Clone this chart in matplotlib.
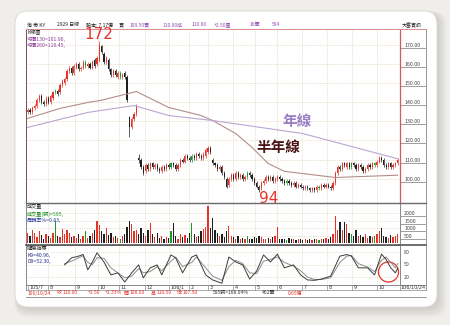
import matplotlib
matplotlib.use('Agg')
import matplotlib.pyplot as plt
from matplotlib.patches import FancyBboxPatch, Circle
from matplotlib import transforms
import numpy as np

plt.rcParams['font.family'] = ['Noto Sans CJK TC', 'DejaVu Sans']

W, H = 450, 325

# ---- data (one candle = 2 trading days) ----
closes = [136, 135, 137, 138, 141, 143, 140, 139, 142, 140,
          143, 145, 146, 144, 149, 151, 152, 156, 158, 155,
          159, 160, 157, 158, 161, 159, 160, 158, 161, 159,
          163, 170, 166, 161, 163, 157, 154, 156, 154, 155,
          153, 154, 153, 141, 127, 131, 134, 138, 110, 106,
          103, 107, 105, 108, 106, 107, 105, 104, 106, 105,
          107, 106, 108, 107, 105, 107, 110, 109, 112, 111,
          110, 112, 111, 113, 112, 111, 113, 115, 116, 114,
          108, 107, 105, 106, 103, 101, 96, 100, 102, 100,
          103, 101, 102, 100, 101, 103, 102, 100, 98, 96,
          94, 98, 99, 101, 100, 101, 99, 100, 101, 100,
          99, 98, 99, 98, 97, 98, 96, 97, 96, 95,
          96, 95, 94, 95, 94, 96, 95, 97, 96, 97,
          96, 95, 98, 103, 106, 105, 108, 107, 108, 106,
          108, 107, 105, 107, 106, 104, 105, 107, 106, 108,
          107, 109, 111, 110, 107, 106, 108, 106, 107, 108,
          110]
opens = [135, 136, 135, 137, 138, 141, 143, 140, 139, 142,
         140, 142, 145, 146, 145, 149, 150, 152, 156, 158,
         155, 158, 160, 157, 158, 161, 159, 160, 158, 162,
         160, 162, 169, 165, 161, 162, 157, 154, 156, 153,
         155, 153, 155, 153, 132, 127, 131, 134, 111, 110,
         106, 104, 107, 105, 108, 106, 107, 105, 104, 106,
         105, 107, 106, 108, 107, 105, 107, 110, 109, 112,
         111, 110, 112, 111, 113, 112, 111, 112, 114, 116,
         110, 108, 107, 105, 106, 103, 100, 97, 100, 102,
         100, 103, 101, 102, 100, 101, 103, 102, 100, 98,
         96, 95, 98, 99, 101, 100, 101, 99, 100, 101,
         100, 99, 98, 99, 98, 97, 98, 96, 97, 96,
         95, 96, 95, 94, 95, 94, 96, 95, 97, 96,
         97, 96, 95, 98, 103, 106, 105, 108, 106, 108,
         106, 108, 107, 105, 107, 106, 104, 105, 107, 106,
         108, 107, 109, 111, 110, 107, 106, 108, 106, 107,
         108]
highs = [137, 137, 138, 139, 142, 144, 144, 141, 143, 143,
         144, 146, 147, 147, 150, 152, 153, 157, 159, 159,
         160, 161, 161, 159, 162, 162, 161, 161, 162, 163,
         164, 172, 170, 166, 164, 163, 158, 157, 157, 156,
         156, 155, 156, 154, 133, 132, 135, 139, 113, 111,
         107, 108, 108, 109, 109, 108, 108, 106, 107, 107,
         108, 108, 109, 109, 108, 108, 111, 111, 113, 113,
         112, 113, 113, 114, 114, 113, 114, 116, 117, 117,
         111, 109, 108, 107, 107, 104, 101, 101, 103, 103,
         104, 104, 103, 103, 102, 104, 104, 103, 101, 99,
         97, 99, 100, 102, 102, 102, 102, 101, 102, 102,
         101, 100, 100, 100, 99, 99, 99, 98, 98, 97,
         97, 97, 96, 96, 96, 97, 97, 98, 98, 98,
         98, 97, 99, 104, 107, 107, 109, 109, 109, 109,
         109, 109, 108, 108, 108, 107, 106, 108, 108, 109,
         109, 110, 112, 112, 111, 108, 109, 109, 108, 109,
         111]
lows = [134, 134, 134, 136, 137, 140, 139, 138, 138, 139,
        139, 141, 144, 143, 144, 148, 149, 151, 155, 154,
        154, 157, 156, 156, 157, 158, 158, 157, 157, 158,
        159, 161, 165, 160, 160, 156, 153, 153, 153, 152,
        152, 152, 152, 140, 122, 126, 130, 133, 108, 105,
        102, 103, 104, 104, 105, 105, 104, 103, 103, 104,
        104, 105, 105, 106, 104, 104, 106, 108, 108, 110,
        109, 109, 110, 110, 111, 110, 110, 111, 113, 113,
        107, 106, 104, 104, 102, 100, 95, 96, 99, 99,
        99, 100, 100, 99, 99, 100, 101, 99, 97, 95,
        93, 94, 97, 98, 99, 99, 98, 98, 99, 99,
        98, 97, 97, 97, 96, 96, 95, 95, 95, 94,
        94, 94, 93, 93, 93, 93, 94, 94, 95, 95,
        95, 94, 94, 97, 102, 104, 104, 106, 105, 105,
        105, 106, 104, 104, 105, 103, 103, 104, 105, 105,
        106, 106, 108, 109, 106, 105, 105, 105, 105, 106,
        107]
volumes = [700, 500, 900, 650, 400, 800, 550, 300, 600, 450,
           350, 700, 1500, 500, 400, 950, 600, 850, 700, 400,
           500, 350, 600, 300, 450, 800, 350, 500, 700, 900,
           1500, 1200, 800, 600, 1000, 550, 700, 400, 500, 350,
           300, 450, 600, 1100, 1500, 1300, 800, 900, 600, 1000,
           700, 500, 900, 1350, 600, 400, 700, 350, 500, 300,
           400, 350, 800, 1350, 500, 300, 600, 400, 550, 350,
           700, 1350, 600, 400, 500, 800, 950, 1100, 2500, 1000,
           1700, 900, 700, 500, 600, 400, 800, 1150, 500, 400,
           300, 450, 250, 350, 300, 500, 250, 300, 400, 350,
           500, 400, 300, 250, 350, 300, 400, 500, 1100, 300,
           250, 300, 200, 350, 250, 300, 200, 250, 300, 200,
           250, 200, 300, 200, 250, 300, 200, 250, 300, 350,
           300, 400, 600, 1800, 850, 1400, 900, 1400, 1250, 700,
           600, 500, 850, 450, 550, 400, 600, 350, 500, 400,
           450, 600, 800, 1000, 500, 400, 350, 550, 400, 500,
           600]
green_days = [12, 25, 40, 62, 71, 95, 112, 126, 140, 150]

ma130_idx = [0, 14, 26, 32, 47, 61, 75, 80, 90, 97, 104, 111, 133, 160]
ma130_val = [131.5, 136.7, 139.8, 141, 145.5, 137.2, 133, 130.4, 123.6, 116.4, 108, 103.9, 100.7, 101.9]
ma260_idx = [0, 26, 46, 61, 80, 119, 160]
ma260_val = [126.8, 134.6, 138.2, 133, 130.4, 123.6, 110.45]

kd_idx = [16, 19, 22, 24, 26, 28, 30, 33, 36, 39, 42, 45, 48, 50, 53, 56, 58, 62, 64, 67,
          71, 73, 77, 80, 84, 87, 90, 93, 96, 99, 102, 105, 108, 111, 115, 118, 121, 124, 127, 131,
          135, 138, 140, 143, 147, 150, 153, 155, 157, 159, 160]
k_vals = [49, 66, 70, 74, 37, 56, 78, 56, 25, 30, 8, 30, 49, 18, 42, 49, 25, 73, 66, 30,
          68, 73, 25, 13, 5, 68, 56, 49, 15, 34, 73, 56, 75, 42, 49, 25, 13, 12, 15, 22,
          70, 74, 70, 42, 42, 25, 75, 62, 42, 30, 41]
d_vals = [52, 58, 66, 71, 55, 50, 66, 65, 42, 30, 18, 22, 40, 30, 33, 45, 35, 58, 68, 45,
          55, 68, 42, 22, 12, 45, 60, 52, 30, 28, 58, 62, 68, 55, 46, 35, 20, 14, 14, 18,
          55, 70, 72, 52, 44, 33, 60, 68, 55, 42, 52]

month_idx = [0, 8.6, 20.3, 30.3, 39.4, 50.6, 61, 69.8, 77.9, 88.7, 98.2, 107.8, 118.6, 129.4, 140.2, 151]
month_lbl = ['105/7', '8', '9', '10', '11', '12', '106/1', '2', '3', '4', '5', '6', '7', '8', '9', '10']
price_ticks = [170, 160, 150, 140, 130, 120, 110, 100]
vol_ticks = [2000, 1500, 1000, 500]
kd_ticks = [80, 50, 20]

RED = '#e5332a'
BLK = '#1e1e1e'
GRN = '#1a9a2a'
GRID = '#d8c6a4'

fig = plt.figure(figsize=(4.5, 3.25), dpi=100, facecolor='#efeeea')

bg = fig.add_axes([0, 0, 1, 1])
bg.set_xlim(0, W)
bg.set_ylim(H, 0)
bg.axis('off')
# soft shadow + white card
for i in range(7):
    bg.add_patch(FancyBboxPatch((17 + i * 0.4, 13 + i * 0.5), 422, 296,
                                boxstyle='round,pad=%.1f,rounding_size=14' % (i * 0.8),
                                fc='#9a948a', ec='none', alpha=0.05))
bg.add_patch(FancyBboxPatch((15, 11), 422, 296, boxstyle='round,pad=0,rounding_size=13',
                            fc='white', ec='#dcd8d0', lw=0.6))


def fa(x0, y0, x1, y1):
    return fig.add_axes([x0 / W, 1 - y1 / H, (x1 - x0) / W, (y1 - y0) / H])


XL = (-0.7, 161)
idx = np.arange(len(closes))
cols = []
for i, (o, c) in enumerate(zip(opens, closes)):
    if i in green_days:
        cols.append(GRN)
    elif c >= o:
        cols.append(RED)
    else:
        cols.append(BLK)


def style(ax, color='#8a8a8a'):
    ax.set_xlim(*XL)
    ax.set_facecolor('none')
    for s in ax.spines.values():
        s.set_color(color)
        s.set_linewidth(0.7)
    ax.set_xticks(month_idx[1:])
    ax.tick_params(axis='x', length=0, labelbottom=False)
    ax.grid(True, color=GRID, lw=0.5, ls=(0, (1, 1.5)))
    ax.set_axisbelow(True)
    ax.yaxis.tick_right()
    ax.tick_params(axis='y', length=0, pad=3, labelsize=3.8, labelcolor='#444')


def underline(ax, ticks):
    tr = transforms.offset_copy(ax.get_yaxis_transform(), fig=fig, y=-3, units='dots')
    for v in ticks:
        ax.plot([1.0, 1.068], [v, v], transform=tr, color='#777', lw=0.5, clip_on=False)


# ---- price panel ----
ax = fa(26, 29, 400, 203)
style(ax)
ax.spines['top'].set_color('#d98c8c')
ax.spines['right'].set_color('#d45a5a')
ax.spines['right'].set_linewidth(0.9)
ax.spines['left'].set_color('#7a5050')
ax.set_ylim(87.4, 178.1)
ax.set_yticks(price_ticks)
ax.set_yticklabels(['%.2f' % v for v in price_ticks])
underline(ax, price_ticks)
ax.vlines(idx, lows, highs, colors=cols, lw=0.5)
body = np.array(closes) - np.array(opens)
body = np.where(np.abs(body) < 0.4, 0.4, body)
ax.bar(idx, body, bottom=opens, width=0.5, color=cols, lw=0)
ax.plot(ma130_idx, ma130_val, color='#b48c8c', lw=0.8)
ax.plot(ma260_idx, ma260_val, color='#bba5d2', lw=0.8)
ax.text(30.7, 175, '172', color=RED, fontsize=11, ha='center', va='center',
        family='DejaVu Sans')
ax.text(104.3, 90, '94', color=RED, fontsize=11, ha='center', va='center',
        family='DejaVu Sans', clip_on=False)
ax.text(116.5, 130.3, '年線', color='#9b7fc6', fontsize=10.5, fontweight='bold',
        ha='center', va='center')
ax.text(108.2, 116.6, '半年線', color='#4a1414', fontsize=10.5, fontweight='bold',
        ha='center', va='center')
ax.text(0.003, 0.995, 'K線圖', transform=ax.transAxes, fontsize=3.7, va='top', color='#222')
ax.text(0.003, 0.957, '均價130=101.90,', transform=ax.transAxes, fontsize=3.7, va='top', color='#8a3c9a')
ax.text(0.003, 0.919, '均價260=110.45,', transform=ax.transAxes, fontsize=3.7, va='top', color='#8a3c9a')

# ---- volume panel ----
av = fa(26, 203, 400, 245)
style(av)
av.spines['top'].set_color('#6a6a6a')
av.spines['top'].set_linewidth(1.0)
av.set_ylim(-133, 2667)
av.set_yticks(vol_ticks)
av.set_yticklabels([str(v) for v in vol_ticks])
underline(av, vol_ticks)
av.bar(idx, volumes, width=0.55, color=cols, lw=0)
av.text(0.003, 0.97, '成交量', transform=av.transAxes, fontsize=3.7, va='top', color='#222')
av.text(0.003, 0.81, '成交量(張)=595,', transform=av.transAxes, fontsize=3.7, va='top', color='#1a8a1a')
av.text(0.003, 0.65, '周轉率%=0.83,', transform=av.transAxes, fontsize=3.7, va='top', color='#2a3a9a')

# ---- KD panel ----
ak = fa(26, 245, 400, 284.5)
style(ak)
ak.spines['top'].set_color('#555')
ak.spines['top'].set_linewidth(1.2)
ak.set_ylim(2, 96.8)
ak.set_yticks(kd_ticks)
ak.set_yticklabels([str(v) for v in kd_ticks])
ak.plot(kd_idx, d_vals, color='#8c8c8c', lw=0.7)
ak.plot(kd_idx, k_vals, color='#3c3c3c', lw=0.7)
for y, t, c in [(0.97, '隨機指標', '#222'), (0.81, 'K9=40.96,', '#2a2a8a'), (0.65, 'D9=52.30,', '#2a2a8a')]:
    ak.text(0.003, y, t, transform=ak.transAxes, fontsize=3.7, va='top', color=c,
            bbox=dict(fc='white', ec='none', pad=0.3))
# date row under the KD panel
dtr = transforms.blended_transform_factory(ak.transData, ak.transAxes)
for m, lbl in zip(month_idx, month_lbl):
    ak.plot([m, m], [0, -0.127], transform=dtr, color='#888', lw=0.5, clip_on=False)
    ak.text(m + 0.8, -0.065, lbl, transform=dtr, fontsize=3.5, va='center', ha='left',
            color='#333', family='DejaVu Sans')

# ---- frame pieces drawn in pixel space ----
bg.plot([26, 426], [289.5, 289.5], color='#888', lw=0.5)
bg.plot([26, 426], [296.5, 296.5], color='#888', lw=0.6)
bg.plot([26, 26], [29, 289.5], color='#888', lw=0.6)
bg.plot([426, 426], [29, 289.5], color='#888', lw=0.6)
bg.plot([400, 426], [29, 29], color='#d98c8c', lw=0.7)
bg.plot([400, 400], [284.5, 289.5], color='#888', lw=0.5)
bg.plot([400, 426], [203, 203], color='#6a6a6a', lw=1.0)
bg.plot([400, 426], [245, 245], color='#555', lw=1.2)
bg.plot([400, 426], [284.5, 284.5], color='#888', lw=0.6)
bg.text(413, 287, '106/10/24', fontsize=3.5, ha='center', va='center', color='#333',
        family='DejaVu Sans')
bg.add_patch(Circle((388.5, 272), 10, fc='none', ec=RED, lw=0.9))

# header row
hdr = [(27, '淘 帝 KY', '#222'), (57, '2929 日線', '#222'), (86, '股本: 7.17億', '#222'),
       (119, '買', '#222'), (130, '109.50賣', '#9050b0'), (163, '110.00成', '#9050b0'),
       (192, '110.00', '#9050b0'), (214, '+2.50量', '#9050b0'), (250, '16筆', '#9050b0'),
       (272, '594', '#9050b0'), (402, '大富資訊', '#222')]
for x, t, c in hdr:
    bg.text(x, 25, t, fontsize=3.6, va='center', ha='left', color=c)

# bottom info row
info = [(28, '106/10/24', RED), (57, '收', RED), (63, '110.00', RED), (88, '+2.50', RED),
        (105, '+2.33%', RED), (124, '開', RED), (130, '108.00', RED), (151, '高', RED),
        (157, '110.50', RED), (177, '低', RED), (183, '107.50', RED),
        (213, '595張=168.04%', '#333'), (262, '462筆', '#333'), (288, '0.65億', RED)]
for x, t, c in info:
    bg.text(x, 293, t, fontsize=3.6, va='center', ha='left', color=c)

fig.savefig('out.png', dpi=100, facecolor=fig.get_facecolor())
